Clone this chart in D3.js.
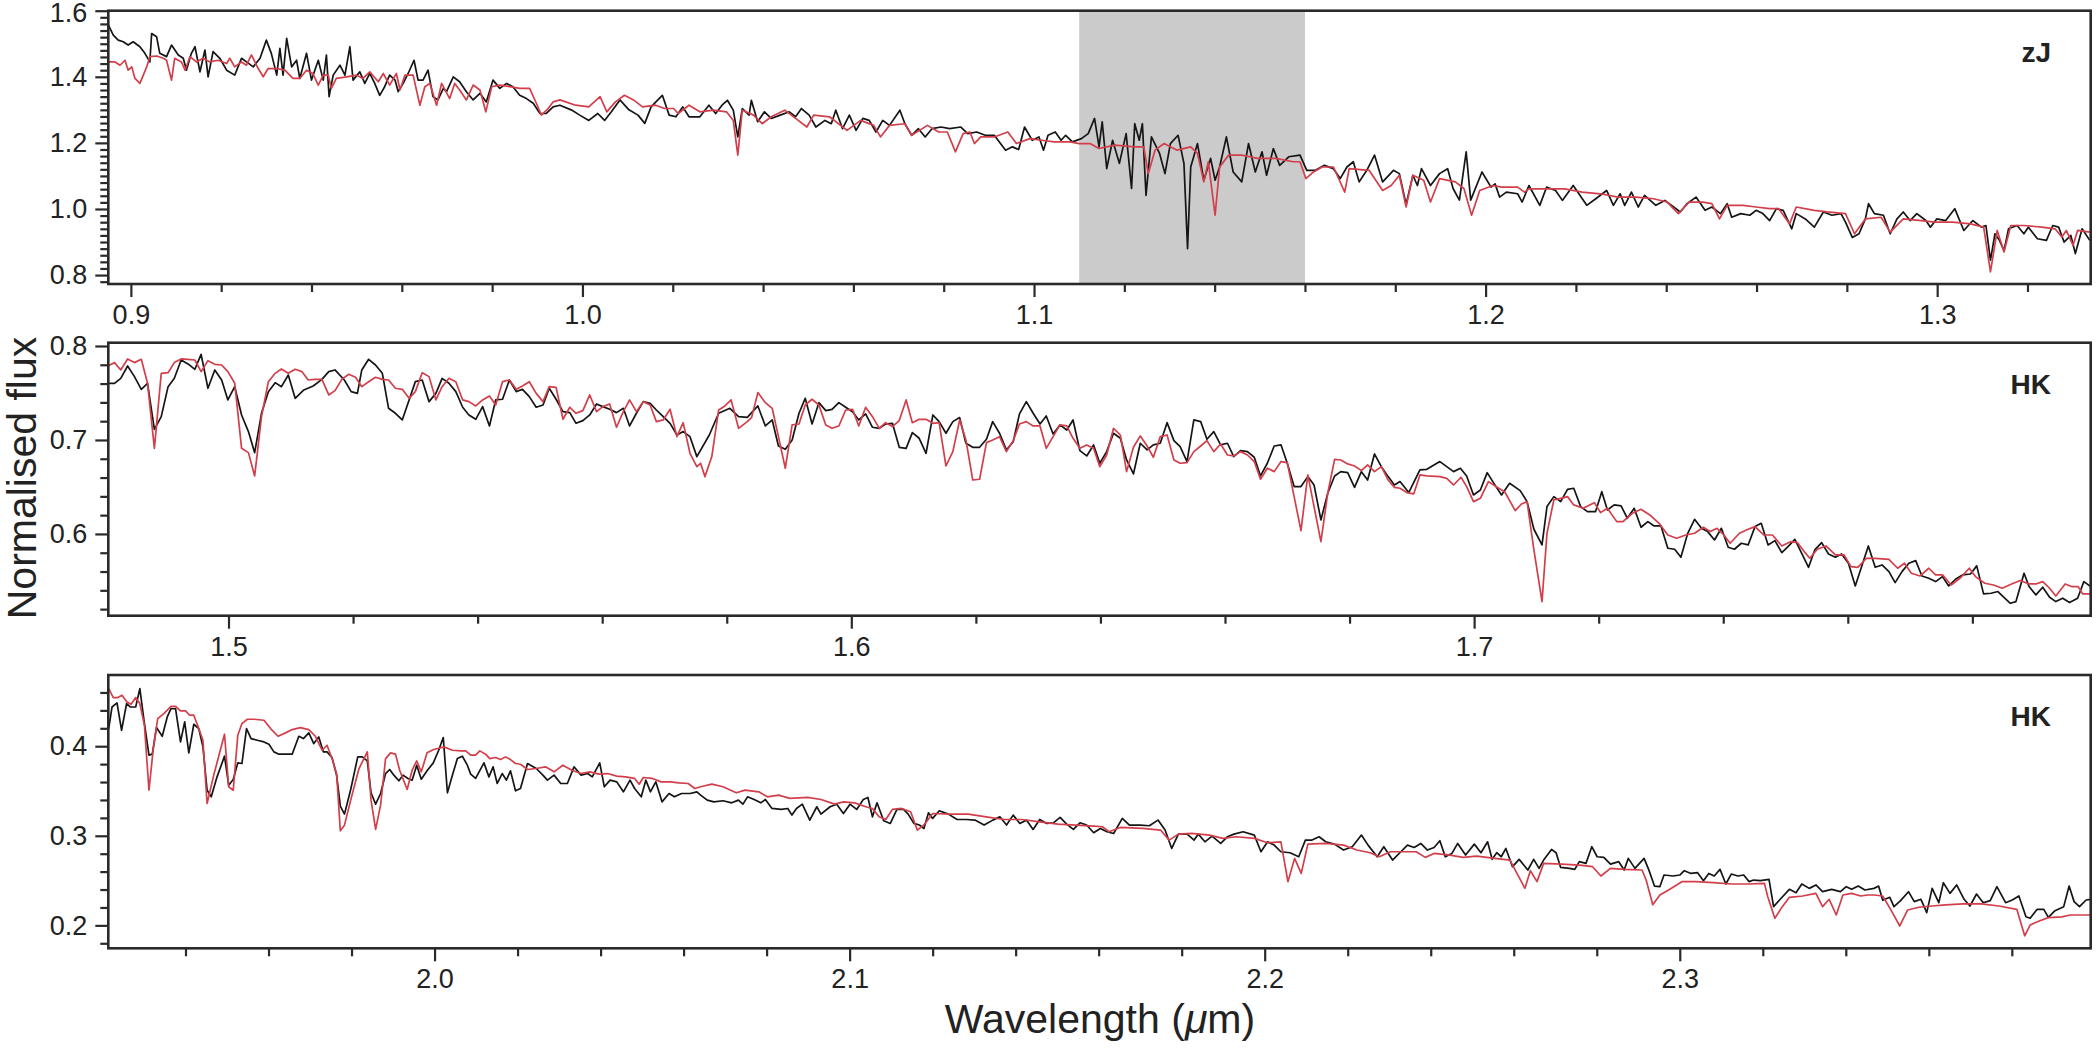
<!DOCTYPE html>
<html><head><meta charset="utf-8">
<script src="https://cdn.jsdelivr.net/npm/d3@7"></script>
<style>
body{margin:0;background:#fff}
svg{display:block}
text{font-family:"Liberation Sans",Arial,Helvetica,sans-serif}
</style>
</head><body>
<svg id="chart" width="2100" height="1050"></svg>
<script>
// ---------------- DATA (wavelength in micron, normalised flux) ----------------
const zjBlack = [[0.8950,1.557],[0.8961,1.526],[0.8972,1.511],[0.8983,1.506],[0.8994,1.496],[0.9005,1.506],[0.9020,1.491],[0.9031,1.471],[0.9042,1.445],[0.9046,1.531],[0.9057,1.521],[0.9064,1.471],[0.9079,1.461],[0.9090,1.496],[0.9105,1.466],[0.9116,1.456],[0.9123,1.42],[0.9134,1.471],[0.9142,1.491],[0.9153,1.415],[0.9164,1.481],[0.9171,1.4],[0.9182,1.476],[0.9197,1.456],[0.9212,1.42],[0.9230,1.405],[0.9245,1.456],[0.9256,1.445],[0.9271,1.43],[0.9286,1.456],[0.9300,1.511],[0.9311,1.471],[0.9323,1.405],[0.9330,1.486],[0.9337,1.405],[0.9345,1.516],[0.9356,1.43],[0.9367,1.45],[0.9374,1.395],[0.9389,1.471],[0.9400,1.39],[0.9415,1.45],[0.9426,1.39],[0.9433,1.466],[0.9439,1.34],[0.9448,1.405],[0.9463,1.435],[0.9474,1.405],[0.9485,1.491],[0.9492,1.39],[0.9507,1.415],[0.9518,1.38],[0.9529,1.41],[0.9540,1.38],[0.9551,1.344],[0.9562,1.37],[0.9573,1.405],[0.9585,1.39],[0.9592,1.355],[0.9603,1.38],[0.9614,1.41],[0.9627,1.45],[0.9636,1.39],[0.9647,1.39],[0.9658,1.42],[0.9669,1.34],[0.9680,1.33],[0.9692,1.365],[0.9699,1.355],[0.9714,1.4],[0.9728,1.385],[0.9743,1.355],[0.9758,1.33],[0.9773,1.35],[0.9787,1.324],[0.9802,1.39],[0.9817,1.365],[0.9832,1.38],[0.9846,1.37],[0.9861,1.344],[0.9876,1.334],[0.9891,1.32],[0.9906,1.289],[0.9920,1.289],[0.9935,1.309],[0.9950,1.314],
[0.9975,1.3],[0.9994,1.284],[1.0014,1.268],[1.0034,1.289],[1.0049,1.268],[1.0064,1.294],[1.0083,1.33],[1.0103,1.3],[1.0123,1.284],[1.0138,1.259],[1.0152,1.309],[1.0167,1.33],[1.0177,1.344],[1.0192,1.284],[1.0207,1.279],[1.0222,1.309],[1.0236,1.279],
[1.0260,1.279],[1.0280,1.314],[1.0295,1.289],[1.0309,1.314],[1.0321,1.329],[1.0334,1.299],[1.0344,1.218],[1.0354,1.304],[1.0369,1.284],[1.0374,1.329],[1.0388,1.264],[1.0403,1.294],[1.0418,1.274],[1.0438,1.284],[1.0458,1.294],[1.0472,1.279],[1.0485,1.304],[1.0502,1.284],[1.0517,1.248],[1.0537,1.268],[1.0551,1.258],[1.0561,1.299],[1.0576,1.243],[1.0591,1.284],[1.0606,1.238],[1.0621,1.274],[1.0635,1.268],[1.0650,1.233],[1.0665,1.268],[1.0680,1.253],[1.0703,1.299],[1.0714,1.258],[1.0729,1.223],[1.0744,1.243],[1.0759,1.218],[1.0774,1.243],[1.0794,1.248],[1.0813,1.243],[1.0838,1.248],[1.0853,1.228],[1.0873,1.233],[1.0892,1.223],[1.0912,1.223],[1.0937,1.178],[1.0952,1.188],[1.0966,1.18],[1.0979,1.248],[1.0996,1.208],[1.1011,1.218],[1.1021,1.178],[1.1031,1.223],[1.1047,1.233],[1.1060,1.208],[1.1070,1.223],[1.1085,1.203],[1.1105,1.213],[1.1120,1.228],[1.1134,1.274],[1.1144,1.188],[1.1151,1.264],[1.1161,1.122],[1.1174,1.208],[1.1189,1.138],[1.1204,1.228],[1.1216,1.062],[1.1223,1.258],[1.1233,1.208],[1.1240,1.258],[1.1248,1.041],[1.1260,1.218],[1.1278,1.168],[1.1290,1.107],[1.1302,1.198],[1.1319,1.223],[1.1332,1.138],[1.1340,0.88],[1.1347,1.127],[1.1362,1.198],[1.1376,1.087],[1.1391,1.153],[1.1401,1.087],[1.1411,1.127],[1.1426,1.218],[1.1441,1.112],[1.1460,1.082],[1.1475,1.198],[1.1490,1.112],[1.1505,1.173],[1.1515,1.102],[1.1530,1.183],[1.1544,1.132],[1.1564,1.158],[1.1589,1.163],[1.1604,1.117],[1.1623,1.117],[1.1643,1.132],[1.1663,1.122],[1.1678,1.092],[1.1693,1.127],[1.1707,1.143],[1.1720,1.082],[1.1737,1.117],[1.1754,1.163],[1.1772,1.082],[1.1796,1.117],
[1.1809,1.107],[1.1824,1.014],[1.1839,1.102],[1.1849,1.071],[1.1858,1.122],[1.1878,1.071],[1.1898,1.107],[1.1916,1.122],[1.1928,1.062],[1.1942,1.027],[1.1957,1.173],[1.1967,1.027],[1.1992,1.112],[1.2012,1.066],[1.2021,1.076],[1.2031,1.036],[1.2046,1.051],[1.2071,1.046],[1.2081,1.021],[1.2096,1.071],[1.2120,1.011],[1.2135,1.066],[1.2155,1.056],[1.2170,1.026],[1.2194,1.071],[1.2224,1.011],[1.2244,1.031],[1.2268,1.056],[1.2283,1.011],[1.2298,1.046],[1.2308,1.011],[1.2323,1.051],[1.2338,1.006],[1.2352,1.041],[1.2377,1.011],[1.2397,1.026],[1.2412,1.011],[1.2431,0.991],[1.2446,1.016],[1.2466,1.036],[1.2486,0.996],[1.2501,1.006],[1.2520,0.986],[1.2535,1.016],[1.2545,0.975],[1.2565,0.986],[1.2585,0.981],[1.2599,0.996],[1.2614,0.986],[1.2629,0.965],[1.2644,1.001],[1.2659,0.996],[1.2678,0.94],[1.2688,0.986],[1.2708,0.97],[1.2728,0.945],[1.2748,0.991],[1.2767,0.981],[1.2787,0.986],[1.2797,0.96],[1.2812,0.914],[1.2827,0.925],[1.2841,0.97],[1.2848,1.016],[1.2861,0.986],[1.2881,0.981],[1.2896,0.925],[1.2911,0.97],[1.2925,0.991],[1.2940,0.965],[1.2955,0.986],[1.2975,0.965],[1.2985,0.945],[1.2999,0.97],[1.3019,0.965],[1.3039,1.001],[1.3059,0.935],[1.3079,0.965],[1.3098,0.945],[1.3108,0.95],[1.3118,0.845],[1.3128,0.925],[1.3138,0.905],[1.3148,0.874],[1.3158,0.94],[1.3177,0.95],[1.3192,0.925],[1.3202,0.945],[1.3222,0.91],[1.3242,0.905],[1.3256,0.95],[1.3269,0.945],[1.3281,0.9],[1.3296,0.92],[1.3306,0.865],[1.3321,0.94],[1.3338,0.905]];

const zjRed = [[0.8950,1.445],[0.8965,1.445],[0.8976,1.435],[0.8987,1.45],[0.8994,1.42],[0.9002,1.43],[0.9009,1.395],[0.9020,1.38],[0.9035,1.43],[0.9042,1.461],[0.9057,1.463],[0.9072,1.456],[0.9079,1.45],[0.9090,1.39],[0.9097,1.456],[0.9112,1.445],[0.9120,1.42],[0.9131,1.461],[0.9145,1.445],[0.9160,1.456],[0.9175,1.445],[0.9193,1.45],[0.9212,1.44],[0.9219,1.456],[0.9230,1.43],[0.9245,1.445],[0.9256,1.435],[0.9267,1.466],[0.9282,1.425],[0.9293,1.4],[0.9304,1.425],[0.9323,1.425],[0.9341,1.42],[0.9359,1.395],[0.9374,1.395],[0.9389,1.42],[0.9403,1.41],[0.9415,1.375],[0.9426,1.405],[0.9437,1.405],[0.9444,1.365],[0.9455,1.395],[0.9478,1.4],[0.9500,1.405],[0.9514,1.395],[0.9529,1.415],[0.9548,1.385],[0.9559,1.41],[0.9573,1.375],[0.9588,1.41],[0.9596,1.36],[0.9607,1.405],[0.9625,1.405],[0.9640,1.314],[0.9651,1.37],[0.9662,1.38],[0.9677,1.314],[0.9688,1.38],[0.9706,1.334],[0.9717,1.38],[0.9728,1.36],[0.9743,1.33],[0.9758,1.375],[0.9773,1.36],[0.9786,1.294],[0.9799,1.37],[0.9817,1.375],[0.9839,1.37],[0.9861,1.365],[0.9883,1.365],[0.9898,1.32],[0.9909,1.284],[0.9924,1.304],[0.9935,1.324],[0.9950,1.33],
[0.9985,1.314],[1.0014,1.309],[1.0039,1.34],[1.0054,1.294],[1.0073,1.324],[1.0093,1.344],[1.0113,1.33],[1.0133,1.309],[1.0162,1.314],[1.0182,1.304],[1.0202,1.304],[1.0212,1.289],[1.0236,1.314],
[1.0260,1.294],[1.0290,1.299],[1.0319,1.294],[1.0334,1.268],[1.0344,1.163],[1.0354,1.299],[1.0379,1.284],[1.0398,1.258],[1.0418,1.279],[1.0448,1.299],[1.0472,1.274],[1.0497,1.248],[1.0512,1.284],[1.0547,1.279],[1.0586,1.238],[1.0616,1.268],[1.0645,1.253],[1.0660,1.218],[1.0680,1.253],[1.0714,1.258],[1.0729,1.223],[1.0764,1.253],[1.0789,1.233],[1.0808,1.233],[1.0826,1.173],[1.0843,1.228],[1.0858,1.233],[1.0868,1.198],[1.0882,1.218],[1.0912,1.218],[1.0942,1.233],[1.0961,1.198],[1.0991,1.213],[1.1016,1.208],[1.1045,1.203],[1.1080,1.203],[1.1100,1.198],[1.1124,1.198],[1.1144,1.183],[1.1179,1.193],[1.1223,1.188],[1.1243,1.188],[1.1253,1.107],[1.1268,1.178],[1.1288,1.198],[1.1317,1.178],[1.1347,1.188],[1.1362,1.168],[1.1376,1.082],[1.1386,1.143],[1.1401,0.981],[1.1411,1.127],[1.1431,1.163],[1.1460,1.163],[1.1495,1.153],[1.1535,1.153],[1.1574,1.143],[1.1589,1.143],[1.1602,1.092],[1.1619,1.112],[1.1638,1.127],[1.1663,1.127],[1.1688,1.051],[1.1698,1.122],[1.1742,1.117],[1.1772,1.056],[1.1791,1.071],
[1.1809,1.102],[1.1824,1.006],[1.1839,1.102],[1.1863,1.087],[1.1878,1.021],[1.1898,1.092],[1.1933,1.082],[1.1952,1.062],[1.1969,0.981],[1.1987,1.056],[1.2016,1.071],[1.2036,1.066],[1.2071,1.066],[1.2086,1.051],[1.2096,1.061],[1.2135,1.061],[1.2175,1.061],[1.2214,1.051],[1.2254,1.046],[1.2293,1.036],[1.2333,1.036],[1.2372,1.031],[1.2402,1.021],[1.2427,0.986],[1.2451,1.021],[1.2481,1.021],[1.2501,1.016],[1.2518,0.97],[1.2535,1.011],[1.2570,1.011],[1.2599,1.006],[1.2629,1.001],[1.2649,1.001],[1.2673,0.955],[1.2688,1.006],[1.2728,0.996],[1.2757,0.991],[1.2797,0.986],[1.2817,0.925],[1.2841,0.97],[1.2876,0.975],[1.2896,0.93],[1.2925,0.97],[1.2965,0.965],[1.2995,0.96],[1.3034,0.96],[1.3074,0.955],[1.3103,0.945],[1.3118,0.81],[1.3133,0.935],[1.3148,0.87],[1.3163,0.95],[1.3192,0.95],[1.3232,0.945],[1.3261,0.94],[1.3276,0.915],[1.3286,0.935],[1.3301,0.89],[1.3311,0.935],[1.3338,0.93]];

const hBlack = [[1.4806,0.7603],[1.4817,0.7603],[1.4827,0.7656],[1.4838,0.7787],[1.4849,0.7674],[1.4860,0.7539],[1.4870,0.7603],[1.4881,0.7113],[1.4892,0.7248],[1.4903,0.7567],[1.4913,0.7656],[1.4924,0.7851],[1.4935,0.7809],[1.4946,0.7752],[1.4956,0.7911],[1.4967,0.755],[1.4978,0.7745],[1.4989,0.7638],[1.4999,0.7426],[1.5010,0.7567],[1.5021,0.7266],[1.5032,0.7089],[1.5042,0.6865],[1.5053,0.7284],[1.5064,0.7514],[1.5075,0.761],[1.5085,0.7567],[1.5096,0.7691],[1.5107,0.7443],[1.5121,0.7532],[1.5136,0.7574],[1.5150,0.7645],[1.5161,0.7727],[1.5171,0.7745],[1.5186,0.7638],[1.5197,0.7514],[1.5207,0.7496],[1.5214,0.7745],[1.5225,0.7858],[1.5236,0.7798],[1.5247,0.7709],[1.5257,0.7337],[1.5268,0.7284],[1.5279,0.7213],[1.5290,0.7426],[1.5300,0.7621],[1.5311,0.7638],[1.5322,0.7408],[1.5333,0.7496],[1.5343,0.7656],[1.5354,0.7603],[1.5365,0.7514],[1.5376,0.7348],[1.5386,0.7266],[1.5397,0.722],[1.5408,0.7355],[1.5419,0.7149],[1.5429,0.7426],[1.5440,0.7433],[1.5451,0.7638],[1.5462,0.7514],[1.5472,0.7539],[1.5483,0.7461],[1.5494,0.7348],[1.5505,0.7372],[1.5515,0.755],[1.5526,0.7433],[1.5537,0.7301],[1.5548,0.7291],[1.5558,0.7177],[1.5569,0.7206],[1.5580,0.7266],[1.5591,0.7383],[1.5601,0.7355],[1.5612,0.7326],[1.5623,0.7291],[1.5634,0.7337],[1.5644,0.7149],[1.5655,0.7284],[1.5666,0.7408],[1.5677,0.739],[1.5687,0.7319],[1.5698,0.7248],[1.5709,0.7177],[1.5720,0.7053],[1.5730,0.7089],[1.5741,0.7035],[1.5752,0.6823],
[1.5772,0.7053],[1.5787,0.7284],[1.5805,0.7337],[1.5819,0.7248],[1.5833,0.7241],[1.5850,0.7362],[1.5862,0.7149],[1.5873,0.7213],[1.5883,0.6936],[1.5894,0.6901],[1.5905,0.7],[1.5916,0.7284],[1.5926,0.7443],[1.5937,0.717],[1.5948,0.7397],[1.5959,0.7312],[1.5969,0.7326],[1.5980,0.7397],[1.5991,0.7348],[1.6002,0.7301],[1.6012,0.7213],[1.6023,0.7277],[1.6034,0.7135],[1.6045,0.7124],[1.6055,0.717],[1.6066,0.7177],[1.6077,0.6922],[1.6088,0.6911],[1.6098,0.7078],[1.6109,0.7018],[1.6120,0.6858],[1.6131,0.7266],[1.6141,0.7195],[1.6152,0.7071],[1.6163,0.7195],[1.6174,0.7238],[1.6184,0.6965],[1.6195,0.6922],[1.6206,0.6922],[1.6217,0.7007],[1.6227,0.7195],[1.6238,0.7071],[1.6249,0.6894],[1.6260,0.6982],[1.6270,0.7277],[1.6281,0.7408],[1.6292,0.7284],[1.6303,0.717],[1.6313,0.7255],[1.6324,0.7064],[1.6335,0.716],[1.6346,0.7106],[1.6356,0.7213],[1.6367,0.6887],[1.6378,0.683],[1.6389,0.6947],[1.6399,0.6752],[1.6410,0.6876],[1.6421,0.7071],[1.6432,0.7018],[1.6442,0.6787],[1.6453,0.6638],[1.6464,0.6965],[1.6475,0.6894],[1.6485,0.6947],[1.6496,0.6965],[1.6507,0.7184],[1.6518,0.6993],[1.6528,0.6929],[1.6539,0.677],[1.6550,0.7213],[1.6561,0.7195],[1.6571,0.7007],[1.6582,0.7089],[1.6593,0.6947],[1.6604,0.6965],[1.6614,0.6823],[1.6625,0.6887],[1.6636,0.6876],[1.6647,0.6816],[1.6657,0.6617],[1.6668,0.6752],[1.6679,0.6936],[1.6690,0.6947],[1.6700,0.6752],[1.6711,0.6504],[1.6722,0.6504],[1.6733,0.661],[1.6743,0.6521],[1.6754,0.6149],[1.6765,0.6433],[1.6776,0.6617],[1.6786,0.6663],[1.6797,0.6652],[1.6808,0.6496],[1.6819,0.6663],[1.6829,0.6574],[1.6840,0.6851],[1.6851,0.6716],[1.6862,0.661],[1.6872,0.6521],
[1.6881,0.6557],[1.6895,0.644],[1.6913,0.6681],[1.6924,0.6688],[1.6945,0.677],[1.6967,0.6663],[1.6978,0.6699],[1.6988,0.6617],[1.6999,0.6415],[1.7010,0.6468],[1.7021,0.6652],[1.7031,0.6546],[1.7044,0.6415],[1.7057,0.6539],[1.7074,0.6461],[1.7085,0.6344],[1.7096,0.605],[1.7109,0.5883],[1.7117,0.6291],[1.7128,0.6397],[1.7139,0.6344],[1.7150,0.6475],[1.7160,0.6486],[1.7171,0.6291],[1.7182,0.6238],[1.7195,0.6238],[1.7205,0.645],[1.7214,0.6255],[1.7225,0.6309],[1.7236,0.6298],[1.7246,0.6167],[1.7257,0.6273],[1.7268,0.6071],[1.7279,0.6131],[1.7289,0.6085],[1.7300,0.6085],[1.7311,0.5848],[1.7322,0.5837],[1.7332,0.5752],[1.7343,0.6007],[1.7354,0.6156],[1.7365,0.606],[1.7375,0.6025],[1.7386,0.5936],[1.7397,0.606],[1.7408,0.5858],[1.7418,0.5837],[1.7429,0.5901],[1.7440,0.5883],[1.7451,0.6078],[1.7461,0.6113],[1.7472,0.5883],[1.7483,0.5929],[1.7494,0.5801],[1.7504,0.5865],[1.7515,0.5943],[1.7526,0.5794],[1.7537,0.5645],[1.7547,0.583],[1.7558,0.5908],[1.7569,0.5787],[1.7580,0.5752],[1.7590,0.5787],[1.7601,0.5688],[1.7612,0.5447],[1.7623,0.567],[1.7633,0.5872],[1.7644,0.5645],[1.7655,0.567],[1.7666,0.5599],[1.7676,0.5482],[1.7687,0.5599],[1.7698,0.5688],[1.7709,0.5716],[1.7719,0.5553],[1.7730,0.5528],[1.7741,0.5493],[1.7752,0.5546],[1.7762,0.5447],[1.7773,0.5518],[1.7784,0.5564],[1.7797,0.5574],[1.7807,0.566],[1.7818,0.5362],[1.7830,0.5369],[1.7841,0.5387],[1.7852,0.5316],[1.7861,0.5262],[1.7870,0.528],[1.7883,0.5582],[1.7891,0.544],[1.7902,0.5351],[1.7913,0.5433],[1.7924,0.5326],[1.7934,0.528],[1.7945,0.5316],[1.7956,0.527],[1.7969,0.5316],[1.7979,0.5493],[1.7990,0.544]];

const hRed = [[1.4806,0.7787],[1.4817,0.7823],[1.4827,0.7745],[1.4838,0.7862],[1.4849,0.7823],[1.4860,0.7858],[1.4870,0.7603],[1.4881,0.6911],[1.4892,0.7709],[1.4903,0.7716],[1.4913,0.7823],[1.4924,0.7862],[1.4935,0.7858],[1.4946,0.7851],[1.4956,0.7727],[1.4967,0.7844],[1.4978,0.7805],[1.4989,0.7798],[1.4999,0.7727],[1.5010,0.7603],[1.5021,0.6911],[1.5032,0.6865],[1.5042,0.6617],[1.5053,0.7248],[1.5064,0.762],[1.5075,0.7709],[1.5085,0.7755],[1.5096,0.7709],[1.5107,0.7752],[1.5118,0.7727],[1.5128,0.7638],[1.5139,0.7645],[1.5150,0.7645],[1.5161,0.7479],[1.5171,0.7525],[1.5182,0.7645],[1.5193,0.7699],[1.5204,0.7667],[1.5214,0.7567],[1.5225,0.762],[1.5236,0.7667],[1.5247,0.7645],[1.5257,0.7638],[1.5268,0.755],[1.5279,0.7539],[1.5290,0.7443],[1.5300,0.7514],[1.5311,0.7716],[1.5322,0.7674],[1.5333,0.7426],[1.5343,0.7567],[1.5354,0.7656],[1.5365,0.762],[1.5376,0.7426],[1.5386,0.7408],[1.5397,0.7362],[1.5408,0.7426],[1.5419,0.7468],[1.5429,0.7372],[1.5440,0.762],[1.5451,0.7638],[1.5462,0.7539],[1.5472,0.7574],[1.5483,0.762],[1.5494,0.7496],[1.5505,0.7408],[1.5515,0.7567],[1.5526,0.756],[1.5537,0.722],[1.5548,0.7348],[1.5558,0.7284],[1.5569,0.7312],[1.5580,0.7479],[1.5591,0.7301],[1.5601,0.7355],[1.5612,0.7383],[1.5623,0.7135],[1.5634,0.7301],[1.5644,0.7426],[1.5655,0.7301],[1.5666,0.7408],[1.5677,0.7372],[1.5687,0.7195],[1.5698,0.7213],[1.5709,0.7326],[1.5720,0.7035],[1.5730,0.7184],[1.5741,0.6858],[1.5752,0.6716],
[1.5758,0.6752],[1.5765,0.661],[1.5776,0.6823],[1.5787,0.7319],[1.5797,0.7362],[1.5807,0.7426],[1.5819,0.7124],[1.5833,0.7195],[1.5840,0.7241],[1.5850,0.7504],[1.5862,0.7397],[1.5873,0.7337],[1.5883,0.7035],[1.5894,0.6699],[1.5905,0.716],[1.5916,0.717],[1.5926,0.7372],[1.5937,0.7433],[1.5948,0.7372],[1.5959,0.716],[1.5969,0.7124],[1.5980,0.7149],[1.5991,0.7319],[1.6002,0.7326],[1.6012,0.7149],[1.6023,0.7348],[1.6034,0.7248],[1.6045,0.7124],[1.6055,0.7184],[1.6066,0.7142],[1.6077,0.7206],[1.6088,0.7426],[1.6098,0.7184],[1.6109,0.722],[1.6120,0.722],[1.6131,0.7177],[1.6141,0.7184],[1.6152,0.6723],[1.6163,0.6876],[1.6174,0.7213],[1.6184,0.7],[1.6195,0.6574],[1.6206,0.6582],[1.6217,0.6972],[1.6227,0.7],[1.6238,0.7035],[1.6249,0.6876],[1.6260,0.6993],[1.6270,0.717],[1.6281,0.7195],[1.6292,0.7149],[1.6303,0.7149],[1.6313,0.6911],[1.6324,0.7035],[1.6335,0.716],[1.6346,0.7149],[1.6356,0.7018],[1.6367,0.6911],[1.6378,0.6947],[1.6389,0.6911],[1.6399,0.6716],[1.6410,0.684],[1.6421,0.7124],[1.6432,0.7053],[1.6442,0.6663],[1.6453,0.6922],[1.6464,0.7043],[1.6475,0.6936],[1.6485,0.6816],[1.6496,0.7035],[1.6507,0.7053],[1.6518,0.6787],[1.6528,0.6752],[1.6539,0.6759],[1.6550,0.6876],[1.6561,0.6936],[1.6571,0.6993],[1.6582,0.6876],[1.6593,0.6957],[1.6604,0.684],[1.6614,0.683],[1.6625,0.6876],[1.6636,0.684],[1.6647,0.677],[1.6657,0.6582],[1.6668,0.6699],[1.6679,0.6663],[1.6690,0.677],[1.6700,0.6759],[1.6711,0.6397],[1.6722,0.6035],[1.6733,0.6628],[1.6743,0.6291],[1.6754,0.5918],[1.6765,0.6433],[1.6776,0.6794],[1.6786,0.6787],[1.6797,0.6745],[1.6808,0.6723],[1.6819,0.6674],[1.6829,0.6734],[1.6840,0.6663],[1.6851,0.6716],[1.6862,0.6574],[1.6872,0.6496],
[1.6881,0.6486],[1.6892,0.644],[1.6903,0.6426],[1.6913,0.6628],[1.6924,0.6617],[1.6945,0.661],[1.6956,0.6592],[1.6967,0.6521],[1.6979,0.6603],[1.6988,0.6504],[1.6999,0.6344],[1.7010,0.6379],[1.7023,0.6557],[1.7035,0.6504],[1.7049,0.645],[1.7066,0.6248],[1.7076,0.6319],[1.7085,0.6344],[1.7096,0.583],[1.7109,0.528],[1.7117,0.6007],[1.7128,0.6362],[1.7139,0.6379],[1.7150,0.6397],[1.7160,0.6309],[1.7175,0.6273],[1.7193,0.6333],[1.7203,0.6227],[1.7214,0.6273],[1.7229,0.6131],[1.7239,0.6131],[1.7254,0.6220],[1.7268,0.6262],[1.7282,0.6202],[1.7297,0.6113],[1.7311,0.5989],[1.7325,0.5954],[1.7340,0.5989],[1.7354,0.6007],[1.7368,0.6071],[1.7379,0.6025],[1.7390,0.606],[1.7401,0.5989],[1.7411,0.5901],[1.7426,0.6007],[1.7440,0.605],[1.7451,0.6078],[1.7465,0.5989],[1.7479,0.5989],[1.7494,0.5872],[1.7508,0.5918],[1.7519,0.5908],[1.7530,0.5812],[1.7539,0.5741],[1.7551,0.5837],[1.7565,0.5872],[1.7580,0.5777],[1.7594,0.5777],[1.7605,0.5652],[1.7616,0.5645],[1.7630,0.5741],[1.7644,0.5741],[1.7666,0.573],[1.7680,0.5635],[1.7691,0.5688],[1.7702,0.5582],[1.7716,0.5553],[1.7730,0.5635],[1.7741,0.5564],[1.7752,0.5564],[1.7766,0.5457],[1.7780,0.5528],[1.7795,0.5635],[1.7805,0.5546],[1.7820,0.5475],[1.7834,0.5457],[1.7848,0.5422],[1.7863,0.5468],[1.7877,0.5504],[1.7891,0.5468],[1.7902,0.5468],[1.7913,0.5493],[1.7924,0.5422],[1.7934,0.534],[1.7949,0.5468],[1.7959,0.544],[1.7970,0.544],[1.7977,0.5362],[1.7990,0.5362]];

const kBlack = [[1.9215,0.4197],[1.9223,0.4438],[1.9235,0.4483],[1.9246,0.4178],[1.9258,0.4476],[1.9267,0.4438],[1.9280,0.4438],[1.9290,0.4643],[1.9300,0.429],[1.9312,0.39],[1.9320,0.3911],[1.9330,0.4208],[1.9344,0.4111],[1.9356,0.4327],[1.9365,0.442],[1.9376,0.442],[1.9388,0.4048],[1.9398,0.4271],[1.9408,0.3926],[1.9420,0.4245],[1.9432,0.4197],[1.9442,0.3993],[1.9452,0.3509],[1.9462,0.3435],[1.9476,0.3658],[1.9494,0.3889],[1.9504,0.3565],[1.9515,0.3628],[1.9526,0.3814],[1.9536,0.3807],[1.9547,0.4197],[1.9558,0.4085],[1.9573,0.4067],[1.9589,0.4048],[1.9601,0.4022],[1.9613,0.3937],[1.9625,0.3911],[1.9641,0.3911],[1.9657,0.3911],[1.9673,0.4111],[1.9684,0.4085],[1.9697,0.4149],[1.9709,0.403],[1.9721,0.4104],[1.9732,0.3937],[1.9741,0.3937],[1.9753,0.3874],[1.9764,0.3677],[1.9773,0.3331],[1.9783,0.3242],[1.9798,0.3517],[1.9815,0.3881],[1.9826,0.3881],[1.9838,0.3836],[1.9847,0.348],[1.9858,0.3353],[1.9870,0.3472],[1.9882,0.3695],[1.9892,0.374],[1.9902,0.3677],[1.9914,0.3614],[1.9924,0.3677],[1.9936,0.364],[1.9946,0.3621],[1.9957,0.3788],[1.9968,0.3632],[1.9982,0.3725],[1.9997,0.3814],[2.0010,0.3955],[2.0021,0.4097],[2.0031,0.348],[2.0043,0.3677],[2.0055,0.3862],[2.0067,0.3889],[2.0079,0.3788],[2.0087,0.3688],[2.0099,0.364],[2.0119,0.3814],[2.0131,0.3658],[2.0141,0.377],[2.0151,0.3584],[2.0163,0.3695],[2.0173,0.3621],[2.0183,0.3725],[2.0195,0.3502],[2.0207,0.3528],
[2.0224,0.3807],[2.0245,0.3751],[2.0261,0.3677],[2.0272,0.3621],[2.0288,0.3677],[2.0304,0.3584],[2.0320,0.3584],[2.0336,0.377],[2.0353,0.3677],[2.0369,0.3695],[2.0380,0.3658],[2.0398,0.3814],[2.0409,0.3547],[2.0423,0.3621],[2.0439,0.3602],[2.0455,0.3491],[2.0471,0.3621],[2.0482,0.3528],[2.0498,0.3435],[2.0509,0.3621],[2.0520,0.3491],[2.0533,0.3602],[2.0548,0.3379],[2.0565,0.3472],[2.0578,0.3435],[2.0595,0.3472],[2.0616,0.3472],[2.0632,0.3491],
[2.0641,0.3454],[2.0657,0.3398],[2.0673,0.3379],[2.0695,0.3391],[2.0716,0.3368],[2.0732,0.3398],[2.0743,0.3353],[2.0754,0.3435],[2.0770,0.3405],[2.0786,0.3368],[2.0797,0.3405],[2.0813,0.3305],[2.0835,0.3294],[2.0851,0.3305],[2.0861,0.3231],[2.0872,0.3305],[2.0886,0.3353],[2.0904,0.3175],[2.0921,0.3324],[2.0931,0.3242],[2.0953,0.3324],[2.0969,0.3353],[2.0985,0.3249],[2.1001,0.3353],[2.1017,0.3294],[2.1033,0.3405],[2.1044,0.3428],[2.1055,0.3212],[2.1066,0.3368],[2.1082,0.3168],[2.1098,0.3138],[2.1114,0.3294],[2.1130,0.3294],[2.1141,0.3242],[2.1155,0.3138],[2.1168,0.312],[2.1179,0.3082],[2.1190,0.3257],[2.1200,0.3194],[2.1216,0.3279],[2.1238,0.3242],[2.1259,0.3182],[2.1281,0.3182],[2.1302,0.3175],[2.1324,0.312],[2.1345,0.3175],[2.1362,0.3212],[2.1378,0.312],[2.1394,0.3231],[2.1410,0.3138],[2.1426,0.3175],[2.1442,0.3071],[2.1458,0.3182],[2.1475,0.3138],[2.1491,0.3145],[2.1507,0.3205],[2.1523,0.313],[2.1539,0.3071],[2.1555,0.3145],[2.1571,0.312],[2.1588,0.3034],[2.1604,0.3082],[2.1620,0.3045],[2.1636,0.3026],[2.1657,0.3194],[2.1674,0.312],[2.1700,0.312],[2.1722,0.3112],[2.1743,0.3175],[2.1760,0.3064],[2.1776,0.2859],[2.1792,0.3019],[2.1813,0.3019],[2.1830,0.2952],[2.1840,0.3019],[2.1856,0.2933],[2.1873,0.2997],[2.1894,0.2915],[2.1910,0.2989],[2.1926,0.3019],[2.1948,0.3045],[2.1975,0.3008],[2.1991,0.2822],[2.2007,0.2933],[2.2023,0.2896],[2.2039,0.2822],[2.2061,0.2811],[2.2082,0.2766],[2.2098,0.2952],[2.2114,0.2952],[2.2131,0.2989],[2.2147,0.2933],[2.2168,0.2907],[2.2190,0.2841],[2.2211,0.2878],[2.2233,0.3008],[2.2249,0.2896],[2.2271,0.2766],[2.2287,0.2878],[2.2308,0.2729],
[2.2328,0.2822],[2.2344,0.2896],[2.2360,0.287],[2.2376,0.2915],[2.2392,0.2841],[2.2408,0.287],[2.2422,0.2945],[2.2435,0.2766],[2.2451,0.2803],[2.2465,0.2915],[2.2484,0.2785],[2.2505,0.2907],[2.2521,0.2811],[2.2537,0.2933],[2.2548,0.2737],[2.2559,0.2811],[2.2570,0.2766],[2.2581,0.2859],[2.2597,0.2655],[2.2613,0.2737],[2.2634,0.2618],[2.2648,0.2737],[2.2661,0.2636],[2.2672,0.2729],[2.2691,0.2848],[2.2702,0.2811],[2.2713,0.2647],[2.2734,0.2636],[2.2747,0.2625],[2.2758,0.2711],[2.2774,0.2692],[2.2788,0.2878],[2.2801,0.2766],[2.2817,0.2759],[2.2833,0.2684],[2.2853,0.2711],[2.2866,0.2618],[2.2876,0.2748],[2.2892,0.2636],[2.2914,0.2748],[2.2925,0.2625],[2.2939,0.2439],[2.2952,0.2432],[2.2962,0.2562],[2.2984,0.2551],[2.3000,0.2562],[2.3011,0.261],[2.3027,0.258],[2.3043,0.2588],[2.3057,0.2499],[2.3070,0.258],[2.3083,0.2551],[2.3097,0.2625],[2.3111,0.2462],[2.3124,0.2573],[2.3140,0.2551],[2.3154,0.2562],[2.3167,0.2488],[2.3178,0.2506],[2.3194,0.2499],[2.3215,0.2514],[2.3226,0.2209],[2.3242,0.2291],[2.3264,0.2402],[2.3280,0.2365],[2.3294,0.2462],[2.3312,0.2413],[2.3328,0.2451],[2.3344,0.2376],[2.3366,0.2402],[2.3387,0.2376],[2.3401,0.2432],[2.3414,0.2402],[2.3430,0.2439],[2.3446,0.2395],[2.3468,0.2413],[2.3479,0.2439],[2.3489,0.228],[2.3506,0.2313],[2.3516,0.2209],[2.3532,0.2276],[2.3551,0.2376],[2.3565,0.2265],[2.3581,0.2291],[2.3595,0.2142],[2.3608,0.2413],[2.3624,0.2253],[2.3635,0.2476],[2.3651,0.2357],[2.3667,0.2451],[2.3685,0.2291],[2.3699,0.2216],[2.3715,0.235],[2.3731,0.2253],[2.3748,0.2276],[2.3764,0.2432],[2.3785,0.2253],[2.3801,0.2283],[2.3817,0.2328],[2.3834,0.2097],[2.3844,0.2079],[2.3861,0.2179],[2.3877,0.2179],[2.3888,0.209],[2.3904,0.2164],[2.3925,0.2209],[2.3938,0.2439],[2.3950,0.2265],[2.3963,0.2209],[2.3979,0.2283],[2.3993,0.2291]];

const kRed = [[1.9215,0.4643],[1.9226,0.4543],[1.9237,0.4543],[1.9247,0.4569],[1.9259,0.4494],[1.9269,0.4468],[1.9280,0.4543],[1.9290,0.4476],[1.9301,0.4234],[1.9312,0.3509],[1.9322,0.3955],[1.9333,0.4308],[1.9348,0.4364],[1.9365,0.4446],[1.9376,0.4446],[1.9388,0.4394],[1.9400,0.4394],[1.9410,0.4346],[1.9420,0.4346],[1.9432,0.4197],[1.9442,0.4067],[1.9452,0.3361],[1.9468,0.3677],[1.9494,0.4134],[1.9504,0.3547],[1.9515,0.3509],[1.9526,0.4123],[1.9536,0.4253],[1.9549,0.4301],[1.9565,0.4301],[1.9589,0.429],[1.9605,0.4197],[1.9623,0.4111],[1.9641,0.4149],[1.9657,0.4186],[1.9677,0.4208],[1.9697,0.4186],[1.9713,0.4111],[1.9729,0.3955],[1.9741,0.4011],[1.9753,0.3862],[1.9764,0.3695],[1.9773,0.3056],[1.9783,0.3119],[1.9798,0.3398],[1.9818,0.3751],[1.9838,0.3937],[1.9847,0.3398],[1.9858,0.3071],[1.9870,0.3342],[1.9882,0.3862],[1.9894,0.3926],[1.9906,0.3911],[1.9916,0.3732],[1.9934,0.3517],[1.9946,0.3732],[1.9957,0.3836],[1.9968,0.3714],[1.9982,0.3926],[1.9998,0.3963],[2.0023,0.3993],[2.0043,0.3955],[2.0063,0.3948],[2.0075,0.3948],[2.0087,0.39],[2.0099,0.39],[2.0109,0.3948],[2.0123,0.3911],[2.0133,0.3862],[2.0147,0.3874],[2.0159,0.3851],[2.0171,0.3881],[2.0183,0.3851],[2.0195,0.3807],[2.0207,0.3799],
[2.0224,0.374],[2.0245,0.3751],[2.0267,0.377],[2.0288,0.3714],[2.0309,0.3788],[2.0331,0.3732],[2.0353,0.3695],[2.0374,0.3714],[2.0396,0.3688],[2.0417,0.3695],[2.0439,0.3666],[2.0460,0.3658],[2.0482,0.364],[2.0493,0.3576],[2.0503,0.3651],[2.0525,0.364],[2.0546,0.3602],[2.0568,0.3602],[2.0589,0.3591],[2.0611,0.3584],[2.0627,0.3528],[2.0641,0.3547],
[2.0668,0.3576],[2.0695,0.3547],[2.0727,0.348],[2.0748,0.351],[2.0781,0.3491],[2.0802,0.3435],[2.0829,0.3454],[2.0856,0.3417],[2.0899,0.3428],[2.0931,0.3405],[2.0964,0.3353],[2.0985,0.3379],[2.1012,0.3368],[2.1039,0.3324],[2.1055,0.3305],[2.1071,0.3212],[2.1087,0.3182],[2.1103,0.3294],[2.1125,0.3305],[2.1147,0.3268],[2.1163,0.3064],[2.1179,0.312],[2.1200,0.3249],[2.1243,0.3242],[2.1286,0.3242],[2.1329,0.3212],[2.1372,0.3182],[2.1415,0.3182],[2.1458,0.3156],[2.1502,0.313],[2.1544,0.312],[2.1588,0.3108],[2.1609,0.3101],[2.1625,0.3045],[2.1652,0.3093],[2.1706,0.3082],[2.1749,0.3064],[2.1770,0.2952],[2.1792,0.3019],[2.1824,0.3026],[2.1867,0.3008],[2.1899,0.2971],[2.1932,0.2989],[2.1975,0.2971],[2.2007,0.2922],[2.2039,0.2933],[2.2056,0.2488],[2.2072,0.2748],[2.2088,0.258],[2.2104,0.2907],[2.2147,0.2915],[2.2190,0.2896],[2.2222,0.2841],[2.2254,0.2811],[2.2276,0.2766],[2.2303,0.2822],[2.2328,0.2822],
[2.2365,0.2822],[2.2387,0.2759],[2.2408,0.2803],[2.2446,0.2785],[2.2478,0.2759],[2.2511,0.2774],[2.2554,0.2748],[2.2591,0.2729],[2.2610,0.2562],[2.2627,0.2413],[2.2640,0.261],[2.2656,0.2488],[2.2672,0.2692],[2.2715,0.2684],[2.2758,0.2673],[2.2790,0.2655],[2.2810,0.2551],[2.2833,0.2636],[2.2866,0.2625],[2.2909,0.2618],[2.2919,0.2506],[2.2935,0.2231],[2.2952,0.2339],[2.2973,0.2395],[2.3005,0.2488],[2.3038,0.2488],[2.3081,0.2477],[2.3124,0.2462],[2.3167,0.2462],[2.3204,0.2469],[2.3212,0.232],[2.3229,0.2079],[2.3247,0.2209],[2.3264,0.2313],[2.3296,0.2328],[2.3328,0.2357],[2.3344,0.2209],[2.3360,0.2291],[2.3377,0.2116],[2.3393,0.2339],[2.3414,0.2357],[2.3436,0.2328],[2.3452,0.2339],[2.3468,0.2339],[2.3489,0.2328],[2.3511,0.2153],[2.3530,0.1993],[2.3549,0.2172],[2.3576,0.2202],[2.3608,0.2216],[2.3640,0.2228],[2.3683,0.2239],[2.3726,0.2239],[2.3769,0.2216],[2.3812,0.2179],[2.3831,0.1884],[2.3844,0.2004],[2.3866,0.2049],[2.3888,0.2086],[2.3920,0.2094],[2.3941,0.2116],[2.3963,0.2116],[2.3993,0.2116]];

// tick labels / annotations
const zjXTicks = [0.9, 1.0, 1.1, 1.2, 1.3];
const zjYTicks = [0.8, 1.0, 1.2, 1.4, 1.6];
const hXTicks = [1.5, 1.6, 1.7];
const hYTicks = [0.6, 0.7, 0.8];
const kXTicks = [2.0, 2.1, 2.2, 2.3];
const kYTicks = [0.2, 0.3, 0.4];
const panelLabels = ["zJ", "HK", "HK"];
const zjBand = [1.11, 1.16];
const xDomains = [[0.895, 1.334], [1.4807, 1.799], [1.9214, 2.399]];
const yDomains = [[0.773, 1.6], [0.513, 0.8035], [0.1744, 0.4795]];
const minorStep = 0.02;

// ---------------- DRAW ----------------
const svg = d3.select("#chart");
const LEFT = 108.3, RIGHT = 2090.7;
const layout = [{top: 10.7, bottom: 284}, {top: 342.7, bottom: 615.7}, {top: 675, bottom: 948.3}];
const series = [[zjBlack, zjRed], [hBlack, hRed], [kBlack, kRed]];
const xMajors = [zjXTicks, hXTicks, kXTicks];
const yMajors = [zjYTicks, hYTicks, kYTicks];
const AX = "#2a2a2a";
const FONT = 27;

function minorTicks(dom) {
  const out = [];
  for (let i = Math.ceil(dom[0] / minorStep - 1e-6); i * minorStep <= dom[1] + 1e-9; i++) out.push(+(i * minorStep).toFixed(3));
  return out;
}

layout.forEach((L, p) => {
  const x = d3.scaleLinear().domain(xDomains[p]).range([LEFT, RIGHT]);
  const y = d3.scaleLinear().domain(yDomains[p]).range([L.bottom, L.top]);
  const g = svg.append("g");
  const clipId = "clip" + p;
  svg.append("clipPath").attr("id", clipId).append("rect")
    .attr("x", LEFT).attr("y", L.top).attr("width", RIGHT - LEFT).attr("height", L.bottom - L.top);

  if (p === 0) {
    g.append("rect").attr("x", x(zjBand[0])).attr("y", L.top)
      .attr("width", x(zjBand[1]) - x(zjBand[0])).attr("height", L.bottom - L.top)
      .attr("fill", "#cbcbcb");
  }

  const line = d3.line().x(d => x(d[0])).y(d => y(d[1]));
  const lg = g.append("g").attr("clip-path", `url(#${clipId})`);
  lg.append("path").datum(series[p][0]).attr("d", line)
    .attr("fill", "none").attr("stroke", "#151515").attr("stroke-width", 1.7).attr("stroke-linejoin", "round");
  lg.append("path").datum(series[p][1]).attr("d", line)
    .attr("fill", "none").attr("stroke", "#d23f4b").attr("stroke-width", 1.7).attr("stroke-linejoin", "round");

  const xMin = minorTicks(xDomains[p]).filter(v => !xMajors[p].some(m => Math.abs(m - v) < 1e-6));
  const gb = g.append("g").attr("transform", `translate(0,${L.bottom})`)
    .call(d3.axisBottom(x).tickValues(xMin).tickSize(8).tickFormat(""));
  const gbm = g.append("g").attr("transform", `translate(0,${L.bottom})`)
    .call(d3.axisBottom(x).tickValues(xMajors[p]).tickSize(13).tickPadding(8).tickFormat(d3.format(".1f")));

  const yMin = minorTicks(yDomains[p]).filter(v => !yMajors[p].some(m => Math.abs(m - v) < 1e-6));
  const gl = g.append("g").attr("transform", `translate(${LEFT},0)`)
    .call(d3.axisLeft(y).tickValues(yMin).tickSize(8).tickFormat(""));
  const glm = g.append("g").attr("transform", `translate(${LEFT},0)`)
    .call(d3.axisLeft(y).tickValues(yMajors[p]).tickSize(13).tickPadding(8).tickFormat(d3.format(".1f")));

  [gb, gbm, gl, glm].forEach(a => {
    a.select(".domain").remove();
    a.selectAll(".tick line").attr("stroke", AX).attr("stroke-width", 2.2);
    a.selectAll(".tick text").attr("fill", "#222").style("font-size", FONT + "px")
      .style("font-family", '"Liberation Sans", Arial, Helvetica, sans-serif');
  });
  // keep the top label inside the canvas (reference shows it fully)
  if (p === 0) glm.selectAll(".tick text").filter(d => d === 1.6).attr("dy", "0.4em");

  g.append("rect").attr("x", LEFT).attr("y", L.top).attr("width", RIGHT - LEFT).attr("height", L.bottom - L.top)
    .attr("fill", "none").attr("stroke", AX).attr("stroke-width", 2.6);

  g.append("text").attr("x", 2051).attr("y", L.top + 51).attr("text-anchor", "end")
    .attr("font-weight", "bold").attr("font-size", 28).attr("fill", "#222").text(panelLabels[p]);
});

svg.append("text").attr("transform", "translate(36,478) rotate(-90)").attr("text-anchor", "middle")
  .attr("font-size", 41).attr("fill", "#222").text("Normalised flux");

const xt = svg.append("text").attr("x", 1100).attr("y", 1033).attr("text-anchor", "middle")
  .attr("font-size", 41).attr("fill", "#222");
xt.append("tspan").text("Wavelength (");
xt.append("tspan").attr("font-style", "italic").text("\u03bc");
xt.append("tspan").text("m)");
</script>
</body></html>
